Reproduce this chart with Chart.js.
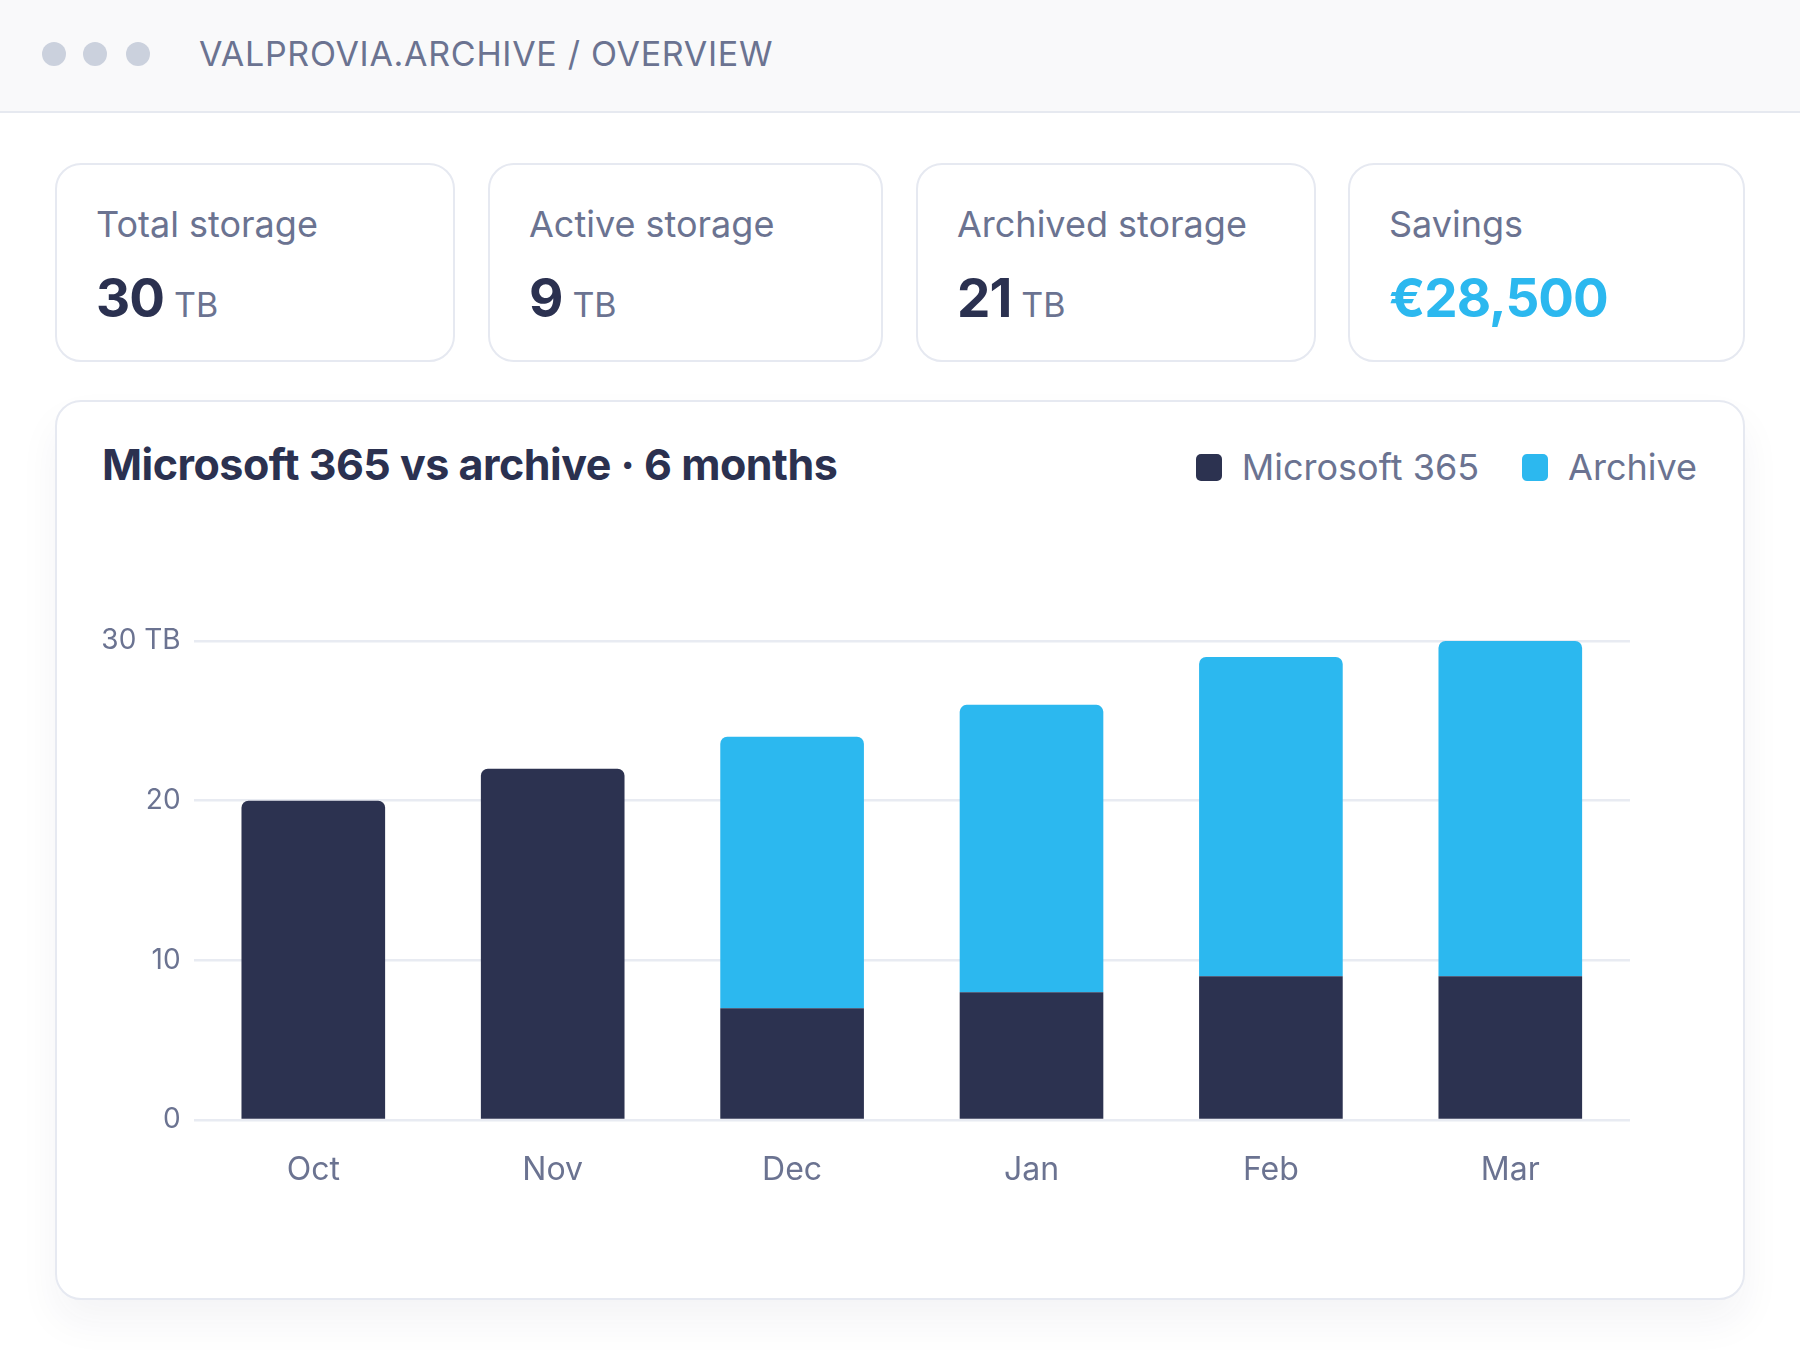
<!DOCTYPE html>
<html>
<head>
<meta charset="utf-8">
<script src="https://cdn.jsdelivr.net/npm/chart.js@4.4.1/dist/chart.umd.min.js"></script>
<style>
  html, body { margin: 0; padding: 0; }
  body { width: 1800px; height: 1350px; position: relative; background: #fff; font-family: Inter, "Noto Sans", sans-serif; overflow: hidden; }
  .topbar { position: absolute; left: 0; top: 0; width: 1800px; height: 111px; background: #f9f9fa; border-bottom: 2px solid #e6e9f0; }
  .dot { position: absolute; top: 42px; width: 24px; height: 24px; border-radius: 50%; background: #cbd1dd; }
  .crumb { position: absolute; left: 199px; top: 37px; font-size: 34px; line-height: 1; color: #6b7391; letter-spacing: 0.7px; }
  .card { position: absolute; top: 163px; height: 199px; box-sizing: border-box; border: 2px solid #e6e9f1; border-radius: 26px; background: #fff; }
  .card .label { position: absolute; left: 39px; top: 41px; font-size: 36px; line-height: 1; color: #6b7391; }
  .card .value { position: absolute; left: 39px; top: 107px; display: flex; align-items: baseline; line-height: 1; }
  .card .num { font-size: 53px; font-weight: 700; color: #2b3150; letter-spacing: -1px; }
  .card .unit { font-size: 34px; color: #6b7391; margin-left: 10px; }
  .panel { position: absolute; left: 55px; top: 400px; width: 1690px; height: 900px; box-sizing: border-box; border: 2px solid #e6e9f1; border-radius: 26px; background: #fff; box-shadow: 0 22px 40px rgba(30, 40, 70, 0.05); }
  .title { position: absolute; left: 102px; top: 443px; font-size: 43px; line-height: 1; font-weight: 700; color: #2b3150; letter-spacing: -0.5px; }
  .legend { position: absolute; right: 103px; top: 449px; display: flex; align-items: center; font-size: 36px; line-height: 1; color: #6b7391; }
  .legend .item { display: flex; align-items: center; margin-left: 43px; }
  .legend .sw { width: 26px; height: 27px; border-radius: 5px; margin-right: 20px; }
  .chartbox { position: absolute; left: 55px; top: 602px; width: 1690px; height: 700px; }
</style>
</head>
<body>
<div class="topbar">
  <div class="dot" style="left:42px"></div>
  <div class="dot" style="left:83px"></div>
  <div class="dot" style="left:126px"></div>
  <div class="crumb">VALPROVIA.ARCHIVE / OVERVIEW</div>
</div>

<div class="card" style="left:55px;width:400px">
  <div class="label">Total storage</div>
  <div class="value"><span class="num">30</span><span class="unit">TB</span></div>
</div>
<div class="card" style="left:488px;width:395px">
  <div class="label">Active storage</div>
  <div class="value"><span class="num">9</span><span class="unit">TB</span></div>
</div>
<div class="card" style="left:916px;width:400px">
  <div class="label">Archived storage</div>
  <div class="value"><span class="num">21</span><span class="unit">TB</span></div>
</div>
<div class="card" style="left:1348px;width:397px">
  <div class="label">Savings</div>
  <div class="value"><span class="num" style="color:#2cb8ef">€28,500</span></div>
</div>

<div class="panel"></div>
<div class="title">Microsoft 365 vs archive · 6 months</div>
<div class="legend" id="legend"></div>
<div class="chartbox"><canvas id="storage"></canvas></div>

<script>
var months = ["Oct", "Nov", "Dec", "Jan", "Feb", "Mar"];
var seriesNames = ["Microsoft 365", "Archive"];
var m365 = [20, 22, 7, 8, 9, 9];
var archive = [0, 0, 17, 18, 20, 21];
var yTicks = [0, 10, 20, 30];
var colors = ["#2c3250", "#2cb8ef"];

// legend built from the same names/colours
var legend = document.getElementById("legend");
seriesNames.forEach(function (name, i) {
  var item = document.createElement("div");
  item.className = "item";
  item.innerHTML = '<span class="sw" style="background:' + colors[i] + '"></span>' + name;
  legend.appendChild(item);
});

var ctx = document.getElementById("storage");

var storageChart = new Chart(ctx, {
  type: 'bar',
  data: {
    labels: months,
    datasets: [{
      label: seriesNames[0],
      data: m365,
      backgroundColor: colors[0],
      borderRadius: function (c) { return archive[c.dataIndex] > 0 ? 0 : 7; },
      borderSkipped: 'start'
    }, {
      label: seriesNames[1],
      data: archive,
      backgroundColor: colors[1],
      borderRadius: 7,
      borderSkipped: 'start'
    }]
  },
  options: {
    responsive: true,
    maintainAspectRatio: false,
    animation: false,
    devicePixelRatio: 1,
    categoryPercentage: 1,
    barPercentage: 0.6,
    layout: { padding: { top: 39, right: 115, bottom: 102, left: 0 } },
    plugins: {
      legend: { display: false },
      tooltip: { enabled: false }
    },
    scales: {
      x: {
        stacked: true,
        grid: { display: false },
        border: { display: false },
        ticks: { color: '#6b7391', font: { family: 'Inter', size: 32 }, padding: 23 },
        afterFit: function (s) { s.height = 80; }
      },
      y: {
        stacked: true,
        min: 0,
        max: 30,
        afterBuildTicks: function (s) { s.ticks = yTicks.map(function (v) { return { value: v }; }); },
        grid: { color: '#e8ebf2', lineWidth: 2.5, drawTicks: false },
        border: { display: false },
        ticks: {
          color: '#6b7391',
          font: { family: 'Inter', size: 28 },
          padding: 13,
          callback: function (v) { return v === 30 ? v + ' TB' : v; }
        },
        afterFit: function (s) { s.width = 138.6; }
      }
    }
  }
});
</script>
</body>
</html>
